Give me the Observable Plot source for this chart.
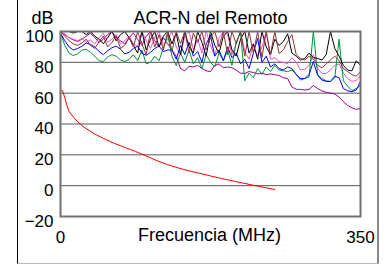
<!DOCTYPE html>
<html><head><meta charset="utf-8">
<script src="https://cdn.jsdelivr.net/npm/d3@7"></script>
<script src="https://cdn.jsdelivr.net/npm/@observablehq/plot@0.6"></script>
<style>
html,body{margin:0;padding:0;background:#fff;}
#wrap{position:relative;width:391px;height:264px;overflow:hidden;}
#border{position:absolute;left:17px;top:-4px;width:362px;height:268px;border-left:1px solid #000;border-right:2px solid #888;border-bottom:1px solid #bbb;box-sizing:border-box;}
#chart{position:absolute;left:0;top:0;}
</style></head><body>
<div id="wrap"><div id="border"></div><div id="chart"></div></div>
<script>
const title = "ACR-N del Remoto";
const yUnit = "dB";
const xLabel = "Frecuencia (MHz)";
const yTicks = [-20, 0, 20, 40, 60, 80, 100];
const gridValues = [0, 20, 40, 60, 80];
const xTicks = [0, 350];

const freq = [0,5,10,15,20,25,30,35,40,45,50,55,60,65,70,75,80,85,90,95,100,105,110,115,120,125,130,135,140,145,150,155,160,165,170,175,180,185,190,195,200,205,210,215,220,225,230,235,240,245,250,255,260,265,270,275,280,285,290,295,300,305,310,315,320,325,330,335,340,345,350];

const purple = [100,98,96,94.5,93.5,95,97,99,96,93, 95,98,100,96,94,92,96,99,95,91, 97,100,94,90,96,92,88,84,76,74.5, 77.5,77,78,76,74.5,74,78,79,76.5,77, 76.5,75,73,72.8,74,73.4,72.5,73,72,72.5, 72,71.5,70,69.5,64,62.5,62.5,62,62.5,65, 63,61.5,60.5,60,59.5,57.5,54.5,52,50.5,49.5, 50];
const pink = [100,98.5,96,95,94,95.5,93,94.5,92,96, 99,93,95,98,92,94,97,92,90,100, 94,89,96,100,91,95,100,90,85,97, 100,88,95,86,100,91,84,96,100,98, 85,92,100,87,82,91,84,90,100,82, 83,80.5,80,79.2,83,80,75,75.5,78,85, 76,72.8,72.8,75,78,79,73,69.5,67.6,68.2, 71.5];
const green = [99,91,86,84.4,85.5,88,88.5,86.5,84,81, 80.5,83.5,85,84,81.5,80.5,82,85,81,88, 79,80,84,81,89,98,84,78,86,80, 88,79,83,76,85,80,77,86,81,88, 78,93,100,68,73,70,76,72,77,74, 78,75,74.5,74,75,72.5,68.5,69.5,70.5,100, 72,69.5,68,67.6,70,95,68,64.5,61.7,63, 65];
const blue = [99,94,90,88,89,90.5,92.5,91.5,90,87, 85,87.5,89.5,90.5,88.5,85.5,86.5,89,90.5,86, 84.5,86.5,89,90.5,87,88,88,82,91,85, 93,84,87,80,92,97.5,84,88,81,90, 83,86,79,82,76,86,95.5,80,84,77, 79,76,75,77,76,72,69.5,69.5,72,80.5, 71.5,68.5,67.6,67.6,71,70,63,61.5,61,62, 67.6];
const black = [100,100,100,99,100,100,98,100,97,95, 92,96,100,94,98,100,96,91,86,100, 88,95,100,90,97,100,92,99,85,100, 90,86,100,93,84,100,91,86,97,100, 88,84,95,100,86,92,82,100,90,85, 95,91,93.5,98.5,86,84,81.5,82.5,86,83, 82.5,81.5,85,100,89,84,78,75,74.5,81, 78];
const brown = [100,97,94,92,91,92.5,95,91,89,93.5, 97,90,93,97,89,91,96,90,100,92, 85,100,90,98,88,100,87,100,92,100, 86,99,93,100,88,96,100,90,100,85, 100,92,100,84,100,86,100,83,100,85, 100,85.7,88,93.5,98,85,82.5,81.5,84,82, 78,76.5,79,81.5,84,81,76,74,72,71, 74];

const limitFreq = [1,2.5,5,7.5,10,15,20,25,30,40,50,62.5,75,87.5,100,112.5,125,137.5,150,162.5,175,187.5,200,212.5,225,237.5,250];
const limitVal = [62,61.5,57,52,48,44.5,41.5,39,37,33.5,30.7,27.5,24.8,22.2,19.3,16.2,13.6,11.5,9.6,8,6.3,4.7,3.2,1.7,0.3,-1.1,-2.5];

const seriesList = [
  {values: purple, color: "#990099"},
  {values: pink, color: "#ff4fc4"},
  {values: green, color: "#00903c"},
  {values: blue, color: "#0000ff"},
  {values: black, color: "#000000"},
  {values: brown, color: "#8b3535"}
];

const font = "'Liberation Sans', Arial, sans-serif";
const lineMarks = seriesList.map(s =>
  Plot.line(freq.map((f, i) => ({f, v: s.values[i]})), {x: "f", y: "v", stroke: s.color, strokeWidth: 1})
);
const limitData = limitFreq.map((f, i) => ({f, v: limitVal[i]}));

const chart = Plot.plot({
  width: 391, height: 264,
  marginLeft: 60, marginRight: 31, marginTop: 31, marginBottom: 48,
  style: {fontFamily: font, fontSize: "17px", background: "transparent", color: "#000"},
  x: {domain: [0, 350]},
  y: {domain: [-20, 100]},
  marks: [
    Plot.ruleY(gridValues, {stroke: "#555", strokeWidth: 1}),
    ...lineMarks,
    Plot.line(limitData, {x: "f", y: "v", stroke: "#ff0000", strokeWidth: 1}),
    Plot.frame({stroke: "#707070", strokeWidth: 2}),
    Plot.axisY({ticks: yTicks, tickSize: 0, tickPadding: 7, dy: 5, label: null, fontSize: 17}),
    Plot.axisX({ticks: xTicks, tickSize: 0, tickPadding: 14, label: null, fontSize: 17}),
    Plot.text([title], {frameAnchor: "top", dy: -20, fontSize: 18}),
    Plot.text([yUnit], {frameAnchor: "top-left", textAnchor: "end", dx: -7, dy: -20, fontSize: 18}),
    Plot.text([xLabel], {frameAnchor: "bottom", dy: 24, dx: -1, fontSize: 18})
  ]
});
document.getElementById("chart").appendChild(chart);
</script></body></html>
